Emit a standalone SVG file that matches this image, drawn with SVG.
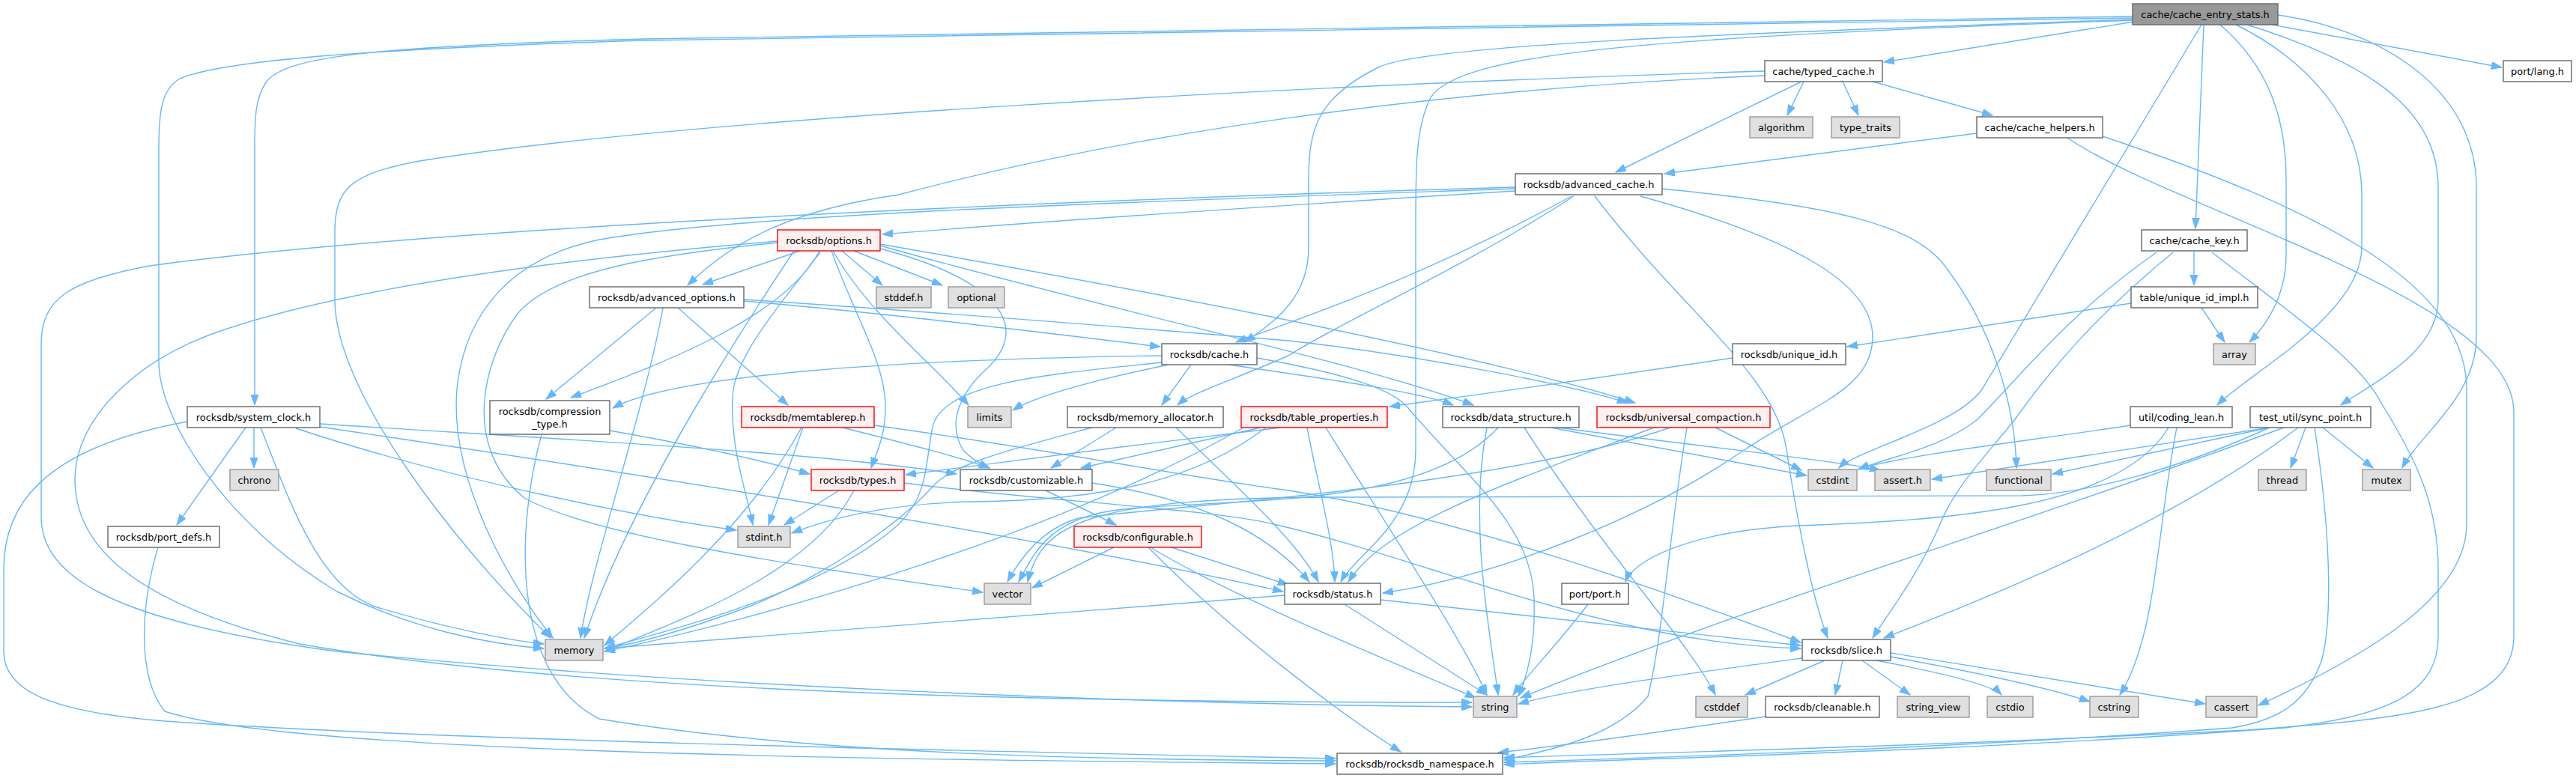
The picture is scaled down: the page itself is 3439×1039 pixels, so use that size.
<svg xmlns="http://www.w3.org/2000/svg" width="3439" height="1039" viewBox="0 0 3439 1039">
<style>
.n rect{fill:#ffffff;stroke:#666666;stroke-width:1.4}
.g rect{fill:#e0e0e0;stroke:#999999;stroke-width:1.4}
.r rect{fill:#fff0f0;stroke:#ff0000;stroke-width:1.4}
.root rect{fill:#999999;stroke:#666666;stroke-width:1.4}
text{font-family:"DejaVu Sans","Liberation Sans",sans-serif;font-size:12.9px;fill:#000000;text-anchor:middle}
#edges path{fill:none;stroke:#63b8ff;stroke-width:1.4;marker-end:url(#ah)}
</style>
<defs>
<marker id="ah" markerUnits="userSpaceOnUse" markerWidth="15" markerHeight="11" refX="14" refY="5" orient="auto">
<path d="M0,0 L14,5 L0,10 z" fill="#63b8ff" stroke="#63b8ff" stroke-width="1"/>
</marker>
</defs>
<rect x="0" y="0" width="3439" height="1039" fill="#ffffff"/>
<g id="edges">
<path d="M2849,29 L2515,83"/>
<path d="M3033,33 L3340,90"/>
<path d="M2942,33 L2931,305"/>
<path d="M2964,33 C3030,90 3052,160 3052,240 L3052,340 C3052,390 3030,430 3003,457"/>
<path d="M3000,33 C3150,80 3255,140 3255,250 L3255,400 C3255,470 3170,510 3125,541"/>
<path d="M2985,33 C3080,80 3153,160 3153,260 L3153,330 C3153,420 3000,500 2960,541"/>
<path d="M3041,20 C3180,40 3306,120 3306,250 L3306,450 C3306,530 3230,580 3207,625"/>
<path d="M2939,33 L2646,520 C2610,570 2480,600 2455,625"/>
<path d="M2847,26 C2300,45 1900,60 1840,90 C1760,130 1747,170 1747,240 L1747,330 C1747,400 1700,430 1662,457"/>
<path d="M2847,27 C2200,50 1950,70 1910,130 C1890,170 1890,220 1890,300 L1890,600 C1890,700 1810,740 1790,777"/>
<path d="M2847,22 L860,52 C500,62 380,75 355,110 C342,130 340,150 340,200 L340,541"/>
<path d="M2847,24 L860,54 C500,65 300,80 240,105 C215,120 212,150 212,200 L212,483 C212,560 300,700 450,790 C550,840 650,860 726,866"/>
<path d="M2408,109 L2386,154"/>
<path d="M2460,109 L2481,154"/>
<path d="M2500,109 L2660,154"/>
<path d="M2405,109 L2157,230"/>
<path d="M2356,101 C1900,120 1500,180 1200,260 C1060,280 980,320 918,381"/>
<path d="M2356,95 C1700,115 900,160 560,215 C470,232 447,250 447,310 L447,400 C447,520 600,720 735,852"/>
<path d="M2639,178 L2222,232"/>
<path d="M2807,182 C3100,280 3293,380 3293,520 L3293,700 C3293,800 3150,880 3015,942"/>
<path d="M2760,184 C2900,280 3356,400 3356,550 L3356,850 C3356,950 3200,960 3000,975 C2500,1000 2200,1005 2008,1012"/>
<path d="M2023,255 C1700,275 1400,295 1178,313"/>
<path d="M2023,250 C1500,265 600,300 200,355 C90,375 55,400 55,460 L55,690 C55,770 150,830 450,870 C900,915 1500,940 1965,944"/>
<path d="M2098,262 C1900,370 1750,420 1650,457"/>
<path d="M2101,262 C1950,360 1790,430 1720,475 C1640,510 1590,525 1572,541"/>
<path d="M2129,262 C2250,420 2370,500 2385,600 C2400,700 2420,800 2440,852"/>
<path d="M2219,252 C2450,275 2560,300 2600,360 C2660,440 2690,540 2692,625"/>
<path d="M2190,262 C2400,320 2500,380 2500,450 C2500,520 2420,540 2330,600 C2200,690 2000,770 1846,792"/>
<path d="M2023,252 C1500,270 1000,285 800,320 C680,345 620,420 610,520 C600,640 680,780 738,852"/>
<path d="M1068,335 L938,380"/>
<path d="M1124,335 L1178,381"/>
<path d="M1140,335 L1258,381"/>
<path d="M1094,335 C1050,420 900,480 762,531"/>
<path d="M1110,335 C1140,420 1180,480 1182,540 C1183,580 1170,605 1163,625"/>
<path d="M1112,335 C1160,420 1250,490 1293,541"/>
<path d="M1175,332 C1320,370 1380,430 1320,490 C1280,525 1265,565 1285,600 C1295,612 1310,620 1321,625"/>
<path d="M1175,328 C1500,420 1800,480 1967,541"/>
<path d="M1175,326 C1600,400 2000,480 2183,538"/>
<path d="M1095,337 C1030,420 980,480 978,530 C975,600 995,650 1005,701"/>
<path d="M1060,335 C950,500 830,700 780,852"/>
<path d="M1038,322 C700,350 450,390 300,440 C180,480 100,560 100,640 C100,720 160,800 400,860 C800,930 1500,938 1965,938"/>
<path d="M1038,324 C880,340 740,360 690,420 C640,490 620,600 700,665 C800,720 1100,760 1312,791"/>
<path d="M993,402 C1200,420 1400,445 1549,463"/>
<path d="M876,411 L729,533"/>
<path d="M905,411 L1052,541"/>
<path d="M993,400 C1300,420 1600,445 1720,455 C1900,475 2100,515 2173,538"/>
<path d="M885,411 C860,550 790,750 775,852"/>
<path d="M1551,475 C1200,480 900,500 818,545"/>
<path d="M1560,487 C1450,510 1380,530 1352,548"/>
<path d="M1590,487 L1551,541"/>
<path d="M1640,487 C1800,510 1900,525 1940,541"/>
<path d="M1551,484 C1400,500 1260,510 1245,570 C1235,620 1240,660 1200,700 C1100,790 900,840 807,866"/>
<path d="M1678,478 C1800,500 1860,520 1880,545 C1960,640 2045,700 2048,800 C2050,860 2040,900 2027,930"/>
<path d="M1490,571 L1403,625"/>
<path d="M1458,571 C1350,600 1270,620 1245,650 C1200,700 1100,770 1000,810 C920,840 850,860 807,866"/>
<path d="M1570,571 C1650,650 1730,720 1760,777"/>
<path d="M1683,571 L1443,625"/>
<path d="M1710,571 C1550,590 1350,615 1209,634"/>
<path d="M1690,571 C1600,640 1480,668 1300,670 C1180,672 1100,695 1057,712"/>
<path d="M1745,571 C1760,650 1780,720 1782,777"/>
<path d="M1770,571 C1850,700 1950,850 1985,928"/>
<path d="M1660,571 C1400,720 1000,830 807,870"/>
<path d="M2080,571 C2300,600 2450,615 2510,628"/>
<path d="M2070,571 L2412,635"/>
<path d="M2035,571 C2150,750 2250,850 2290,928"/>
<path d="M2000,571 C1900,680 1650,665 1500,680 C1400,690 1380,740 1360,777"/>
<path d="M1985,571 C1960,700 1990,850 2000,928"/>
<path d="M2290,571 L2405,628"/>
<path d="M2230,571 C2000,650 1600,672 1440,692 C1395,705 1365,740 1345,777"/>
<path d="M2252,571 C2230,700 2220,850 2200,930 C2150,990 2050,1005 2008,1015"/>
<path d="M2208,571 C2000,650 1850,700 1800,777"/>
<path d="M2844,568 C2700,590 2560,605 2481,626"/>
<path d="M2906,571 C2880,700 2880,850 2830,928"/>
<path d="M2895,571 C2830,680 2600,695 2400,702 C2250,710 2180,750 2170,777"/>
<path d="M3078,571 L3058,625"/>
<path d="M3101,571 L3168,625"/>
<path d="M3030,571 L2740,633"/>
<path d="M3030,571 L2579,640"/>
<path d="M3049,571 C2700,700 2300,820 2030,932"/>
<path d="M3068,571 C2900,700 2650,800 2515,852"/>
<path d="M3030,571 C2900,630 2780,660 2700,662 L1800,664 C1450,663 1390,700 1372,777"/>
<path d="M3090,571 C3110,700 3115,820 3100,880 C3080,940 3040,962 2980,972 C2600,1000 2200,1012 2008,1018"/>
<path d="M2929,336 L2929,381"/>
<path d="M2879,337 C2760,420 2700,500 2640,560 C2590,600 2520,610 2481,627"/>
<path d="M2901,337 C2800,420 2740,490 2690,560 C2650,610 2610,650 2590,700 C2560,770 2520,820 2500,852"/>
<path d="M2953,337 C3060,420 3150,480 3180,540 C3230,620 3255,680 3255,760 L3255,850 C3255,920 3200,955 3050,972 C2600,1005 2200,1012 2008,1021"/>
<path d="M2939,411 L2970,457"/>
<path d="M2845,405 L2466,463"/>
<path d="M2313,478 C2100,510 1950,530 1855,543"/>
<path d="M339,571 L339,625"/>
<path d="M328,571 L236,701"/>
<path d="M427,566 C800,590 1100,605 1277,633"/>
<path d="M427,570 C900,640 1400,720 1713,790"/>
<path d="M395,572 C600,640 850,690 983,708"/>
<path d="M348,571 C380,650 420,780 500,810 C600,840 680,855 726,860"/>
<path d="M250,563 C50,600 5,680 5,760 L5,870 C5,920 60,950 220,963 C600,990 1400,1005 1783,1013"/>
<path d="M211,731 C190,800 180,900 220,950 C400,1010 1300,1015 1783,1020"/>
<path d="M814,575 C900,590 1000,610 1081,633"/>
<path d="M723,580 C690,700 680,900 800,960 C1100,1010 1500,1015 1783,1016"/>
<path d="M1072,571 L1026,701"/>
<path d="M1125,571 C1200,590 1280,610 1321,625"/>
<path d="M1167,568 C1400,600 1600,640 1720,655 C1950,690 2250,800 2404,858"/>
<path d="M1070,571 C1000,700 880,800 807,862"/>
<path d="M1120,655 L1047,701"/>
<path d="M1207,645 C1400,670 1620,680 1700,700 C1900,745 2150,860 2404,866"/>
<path d="M1140,655 C1080,770 900,830 807,870"/>
<path d="M1396,655 L1490,701"/>
<path d="M1458,645 C1620,670 1700,720 1748,777"/>
<path d="M1487,731 L1378,785"/>
<path d="M1564,731 L1720,781"/>
<path d="M1536,731 C1650,800 1850,880 1970,932"/>
<path d="M1533,731 C1650,850 1800,960 1870,1004"/>
<path d="M1715,795 C1400,820 1000,850 807,866"/>
<path d="M1795,807 L1985,928"/>
<path d="M1843,801 C2100,830 2300,850 2404,862"/>
<path d="M2120,807 C2080,860 2040,900 2020,928"/>
<path d="M2406,879 C2250,900 2100,920 2027,940"/>
<path d="M2436,882 L2330,928"/>
<path d="M2460,882 L2450,928"/>
<path d="M2486,882 L2550,928"/>
<path d="M2505,882 C2600,900 2660,915 2672,928"/>
<path d="M2524,877 C2650,900 2740,920 2790,937"/>
<path d="M2524,872 C2700,900 2850,925 2944,940"/>
<path d="M2357,957 C2200,980 2050,1000 2000,1005"/>
</g>
<g id="n_root" class="root"><rect x="2847" y="5" width="194" height="28"/><text x="2944" y="23.6">cache/cache_entry_stats.h</text></g>
<g id="n_typed_cache" class="n"><rect x="2356" y="81" width="157" height="28"/><text x="2434.5" y="99.6">cache/typed_cache.h</text></g>
<g id="n_port_lang" class="n"><rect x="3342" y="81" width="91" height="28"/><text x="3387.5" y="99.6">port/lang.h</text></g>
<g id="n_algorithm" class="g"><rect x="2336" y="156" width="84" height="28"/><text x="2378" y="174.6">algorithm</text></g>
<g id="n_type_traits" class="g"><rect x="2445" y="156" width="91" height="28"/><text x="2490.5" y="174.6">type_traits</text></g>
<g id="n_cache_helpers" class="n"><rect x="2639" y="156" width="168" height="28"/><text x="2723" y="174.6">cache/cache_helpers.h</text></g>
<g id="n_advanced_cache" class="n"><rect x="2023" y="232" width="196" height="28"/><text x="2121" y="250.6">rocksdb/advanced_cache.h</text></g>
<g id="n_options" class="r"><rect x="1038" y="307" width="137" height="28"/><text x="1106.5" y="325.6">rocksdb/options.h</text></g>
<g id="n_cache_key" class="n"><rect x="2859" y="307" width="141" height="28"/><text x="2929.5" y="325.6">cache/cache_key.h</text></g>
<g id="n_advanced_options" class="n"><rect x="787" y="383" width="206" height="28"/><text x="890" y="401.6">rocksdb/advanced_options.h</text></g>
<g id="n_stddef" class="g"><rect x="1170" y="383" width="73" height="28"/><text x="1206.5" y="401.6">stddef.h</text></g>
<g id="n_optional" class="g"><rect x="1266" y="383" width="75" height="28"/><text x="1303.5" y="401.6">optional</text></g>
<g id="n_unique_id_impl" class="n"><rect x="2845" y="383" width="169" height="28"/><text x="2929.5" y="401.6">table/unique_id_impl.h</text></g>
<g id="n_cache" class="n"><rect x="1551" y="459" width="127" height="28"/><text x="1614.5" y="477.6">rocksdb/cache.h</text></g>
<g id="n_unique_id" class="n"><rect x="2313" y="459" width="151" height="28"/><text x="2388.5" y="477.6">rocksdb/unique_id.h</text></g>
<g id="n_array" class="g"><rect x="2955" y="459" width="56" height="28"/><text x="2983" y="477.6">array</text></g>
<g id="n_system_clock" class="n"><rect x="250" y="543" width="177" height="28"/><text x="338.5" y="561.6">rocksdb/system_clock.h</text></g>
<g id="n_compression_type" class="n"><rect x="654" y="535" width="160" height="45"/><text x="734" y="553.5">rocksdb/compression</text><text x="734" y="570.5">_type.h</text></g>
<g id="n_memtablerep" class="r"><rect x="990" y="543" width="177" height="28"/><text x="1078.5" y="561.6">rocksdb/memtablerep.h</text></g>
<g id="n_limits" class="g"><rect x="1292" y="543" width="58" height="28"/><text x="1321" y="561.6">limits</text></g>
<g id="n_memory_allocator" class="n"><rect x="1425" y="543" width="208" height="28"/><text x="1529" y="561.6">rocksdb/memory_allocator.h</text></g>
<g id="n_table_properties" class="r"><rect x="1657" y="543" width="195" height="28"/><text x="1754.5" y="561.6">rocksdb/table_properties.h</text></g>
<g id="n_data_structure" class="n"><rect x="1926" y="543" width="182" height="28"/><text x="2017" y="561.6">rocksdb/data_structure.h</text></g>
<g id="n_universal_compaction" class="r"><rect x="2132" y="543" width="231" height="28"/><text x="2247.5" y="561.6">rocksdb/universal_compaction.h</text></g>
<g id="n_coding_lean" class="n"><rect x="2844" y="543" width="136" height="28"/><text x="2912" y="561.6">util/coding_lean.h</text></g>
<g id="n_sync_point" class="n"><rect x="3004" y="543" width="161" height="28"/><text x="3084.5" y="561.6">test_util/sync_point.h</text></g>
<g id="n_chrono" class="g"><rect x="307" y="627" width="65" height="28"/><text x="339.5" y="645.6">chrono</text></g>
<g id="n_types" class="r"><rect x="1083" y="627" width="124" height="28"/><text x="1145" y="645.6">rocksdb/types.h</text></g>
<g id="n_customizable" class="n"><rect x="1282" y="627" width="176" height="28"/><text x="1370" y="645.6">rocksdb/customizable.h</text></g>
<g id="n_cstdint" class="g"><rect x="2414" y="627" width="65" height="28"/><text x="2446.5" y="645.6">cstdint</text></g>
<g id="n_assert" class="g"><rect x="2503" y="627" width="74" height="28"/><text x="2540" y="645.6">assert.h</text></g>
<g id="n_functional" class="g"><rect x="2652" y="627" width="86" height="28"/><text x="2695" y="645.6">functional</text></g>
<g id="n_thread" class="g"><rect x="3015" y="627" width="64" height="28"/><text x="3047" y="645.6">thread</text></g>
<g id="n_mutex" class="g"><rect x="3154" y="627" width="64" height="28"/><text x="3186" y="645.6">mutex</text></g>
<g id="n_port_defs" class="n"><rect x="144" y="703" width="149" height="28"/><text x="218.5" y="721.6">rocksdb/port_defs.h</text></g>
<g id="n_stdint" class="g"><rect x="985" y="703" width="70" height="28"/><text x="1020" y="721.6">stdint.h</text></g>
<g id="n_configurable" class="r"><rect x="1434" y="703" width="170" height="28"/><text x="1519" y="721.6">rocksdb/configurable.h</text></g>
<g id="n_vector" class="g"><rect x="1314" y="779" width="62" height="28"/><text x="1345" y="797.6">vector</text></g>
<g id="n_status" class="n"><rect x="1715" y="779" width="128" height="28"/><text x="1779" y="797.6">rocksdb/status.h</text></g>
<g id="n_port_port" class="n"><rect x="2085" y="779" width="89" height="28"/><text x="2129.5" y="797.6">port/port.h</text></g>
<g id="n_memory" class="g"><rect x="728" y="854" width="77" height="28"/><text x="766.5" y="872.6">memory</text></g>
<g id="n_slice" class="n"><rect x="2406" y="854" width="118" height="28"/><text x="2465" y="872.6">rocksdb/slice.h</text></g>
<g id="n_string" class="g"><rect x="1967" y="930" width="58" height="28"/><text x="1996" y="948.6">string</text></g>
<g id="n_cstddef" class="g"><rect x="2264" y="930" width="69" height="28"/><text x="2298.5" y="948.6">cstddef</text></g>
<g id="n_cleanable" class="n"><rect x="2357" y="930" width="152" height="28"/><text x="2433" y="948.6">rocksdb/cleanable.h</text></g>
<g id="n_string_view" class="g"><rect x="2533" y="930" width="96" height="28"/><text x="2581" y="948.6">string_view</text></g>
<g id="n_cstdio" class="g"><rect x="2653" y="930" width="61" height="28"/><text x="2683.5" y="948.6">cstdio</text></g>
<g id="n_cstring" class="g"><rect x="2790" y="930" width="65" height="28"/><text x="2822.5" y="948.6">cstring</text></g>
<g id="n_cassert" class="g"><rect x="2945" y="930" width="68" height="28"/><text x="2979" y="948.6">cassert</text></g>
<g id="n_rocksdb_namespace" class="n"><rect x="1785" y="1006" width="221" height="28"/><text x="1895.5" y="1024.6">rocksdb/rocksdb_namespace.h</text></g>
</svg>
